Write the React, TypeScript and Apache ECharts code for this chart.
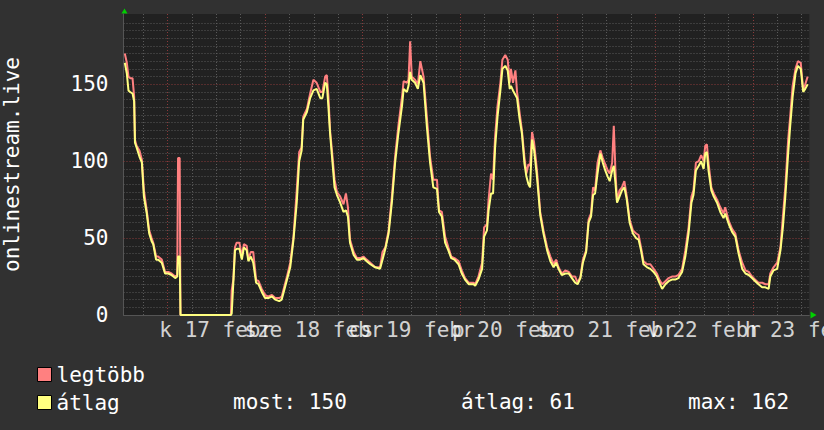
import React, { useEffect, useRef } from 'react';
import * as echarts from 'echarts';

// hours since 16 Feb 00:00
const hours = [
  13.5, 14.0, 14.4, 14.8, 15.4, 15.8, 16.0, 16.4, 17.1, 17.7, 18.2, 18.9, 19.5, 20.1, 20.5, 21.2, 21.7, 22.6, 23.4, 24.2,
  25.0, 25.9, 26.4, 26.6, 27.0, 27.2, 39.6, 39.8, 40.2, 40.6, 41.0, 41.7, 42.3, 42.8, 43.5, 43.9, 44.5, 45.1, 45.8, 46.4,
  47.2, 48.0, 48.8, 49.7, 50.5, 51.5, 52.1, 52.7, 53.4, 54.2, 55.0, 55.8, 56.4, 57.0, 57.4, 58.3, 59.1, 59.9, 60.7, 61.6,
  62.1, 62.8, 63.2, 63.6, 64.0, 64.6, 65.1, 65.7, 66.5, 67.3, 67.9, 68.4, 68.9, 69.8, 70.6, 71.4, 72.2, 73.0, 73.9, 75.1,
  76.3, 76.9, 77.6, 78.4, 79.2, 80.0, 80.8, 81.7, 82.1, 82.9, 83.3, 83.7, 84.1, 84.9, 85.6, 86.2, 87.0, 87.8, 88.6, 89.4,
  90.3, 90.8, 91.5, 92.3, 93.1, 93.8, 94.6, 95.6, 96.4, 97.2, 98.1, 99.3, 99.7, 100.5, 101.4, 101.9, 102.6, 103.0, 103.6, 104.1,
  104.6, 105.2, 105.9, 106.4, 107.1, 107.7, 108.2, 108.5, 109.0, 109.6, 110.0, 110.6, 111.2, 111.8, 112.3, 112.8, 113.2, 113.7, 114.2, 114.9,
  115.7, 116.5, 117.4, 118.2, 119.0, 119.6, 120.2, 121.0, 121.9, 122.7, 123.5, 124.3, 124.9, 125.6, 126.2, 127.0, 127.6, 128.2, 128.7, 129.2,
  129.8, 130.5, 131.1, 131.7, 132.3, 132.8, 133.4, 133.8, 134.2, 134.6, 135.2, 135.8, 136.4, 137.0, 137.7, 138.5, 139.3, 139.9, 140.5, 141.1,
  142.0, 142.8, 143.6, 144.4, 145.0, 145.7, 146.5, 147.3, 148.1, 148.9, 149.7, 150.6, 151.4, 152.2, 152.9, 153.4, 154.0, 154.7, 155.3, 155.9,
  156.3, 156.7, 157.1, 157.8, 158.4, 159.2, 160.0, 160.8, 161.2, 162.1, 162.9, 163.7, 164.5, 165.4, 166.2, 167.0, 167.8, 168.6, 169.4, 170.3,
  171.1, 171.9, 172.3, 173.1, 174.0, 174.8, 175.4, 176.0, 176.7, 177.2, 177.8, 178.5, 179.1, 179.8, 180.4, 180.9, 181.5,
];

const maxValues = [
  170, 164, 155, 154, 154, 142, 114, 110, 107, 101, 81, 68, 55, 50, 47, 38, 38, 36, 28, 28,
  27, 25, 26, 102, 102, 0, 0, 16, 23, 44, 47, 47, 38, 46, 45, 36, 41, 41, 23, 22,
  17, 13, 12, 13, 11, 11, 12, 18, 25, 34, 51, 81, 106, 109, 129, 134, 144, 153, 151, 145,
  145, 155, 156, 142, 120, 103, 88, 80, 77, 72, 79, 70, 49, 41, 37, 37, 38, 36, 34, 31,
  31, 41, 44, 55, 77, 103, 123, 142, 152, 151, 153, 178, 155, 153, 150, 165, 155, 129, 103, 88,
  88, 68, 67, 51, 44, 38, 37, 35, 29, 24, 21, 21, 20, 25, 34, 57, 59, 75, 92, 88,
  116, 136, 151, 166, 169, 166, 151, 160, 151, 159, 145, 132, 120, 103, 92, 98, 97, 119, 112, 94,
  67, 55, 44, 38, 33, 36, 31, 27, 29, 28, 25, 25, 21, 25, 36, 42, 62, 66, 83, 81,
  99, 107, 102, 98, 94, 92, 99, 123, 94, 74, 81, 83, 87, 77, 62, 55, 53, 52, 44, 35,
  33, 33, 30, 27, 23, 20, 22, 24, 25, 25, 26, 30, 42, 57, 77, 81, 99, 100, 104, 100,
  110, 111, 99, 83, 79, 75, 70, 66, 70, 61, 56, 53, 42, 34, 29, 28, 25, 23, 21, 21,
  20, 20, 27, 31, 34, 44, 64, 83, 114, 129, 149, 160, 165, 164, 146, 150, 155,
];

const avgValues = [
  164, 157, 146, 145, 144, 139, 112, 109, 103, 99, 77, 66, 53, 48, 46, 36, 36, 34, 27, 27,
  26, 24, 25, 38, 38, 0, 0, 1, 21, 42, 43, 43, 36, 44, 42, 35, 38, 34, 21, 20,
  15, 11, 11, 12, 10, 9, 10, 16, 23, 31, 49, 73, 100, 107, 127, 132, 141, 146, 147, 141,
  141, 151, 150, 135, 118, 99, 83, 78, 73, 67, 68, 64, 47, 39, 36, 36, 37, 35, 33, 31,
  30, 36, 43, 53, 73, 99, 118, 136, 147, 145, 149, 158, 153, 151, 147, 156, 151, 123, 99, 83,
  82, 67, 64, 47, 42, 37, 36, 33, 27, 23, 20, 20, 19, 23, 30, 51, 55, 68, 79, 79,
  109, 129, 146, 160, 162, 159, 147, 149, 146, 143, 141, 128, 118, 99, 90, 85, 83, 114, 107, 90,
  65, 53, 42, 35, 31, 34, 30, 26, 27, 27, 24, 21, 20, 24, 34, 41, 60, 64, 78, 79,
  92, 105, 99, 94, 90, 87, 94, 97, 86, 73, 77, 81, 83, 75, 60, 53, 50, 49, 42, 33,
  31, 30, 28, 25, 21, 17, 20, 22, 23, 23, 24, 28, 38, 53, 73, 78, 94, 97, 100, 95,
  105, 106, 94, 81, 77, 73, 67, 63, 66, 59, 54, 51, 40, 30, 27, 26, 24, 22, 20, 18,
  18, 17, 25, 29, 30, 42, 57, 77, 105, 123, 142, 157, 162, 160, 145, 147, 150,
];

const seriesNames = ['legtöbb', 'átlag'];
const dayLabels = ['k 17 febr', 'sze 18 febr', 'cs 19 febr', 'p 20 febr', 'szo 21 febr', 'v 22 febr', 'h 23 febr'];
const labelHours = [36, 60, 84, 108, 132, 156, 180];
const yLabelValues = [0, 50, 100, 150];
const statNames = ['most', 'átlag', 'max'];
const statValues = [150, 61, 162];
const yTitle = 'onlinestream.live';

const X_MIN = 13.18;
const X_MAX = 181.9;
const Y_MAX = 195.7;

const FONT = '"DejaVu Sans Mono", monospace';
const PINK = '#ff8080';
const YELLOW = '#ffff80';
const MINOR = '#5a5a5a';
const MAJOR = '#8a3a3a';

export default function App() {
  const ref = useRef<HTMLDivElement>(null);

  useEffect(() => {
    if (!ref.current) return;
    const chart = echarts.init(ref.current, null, { renderer: 'svg' });

    const gridLines: any[] = [];
    for (let h = 18; h < X_MAX; h += 6) {
      gridLines.push({ xAxis: h, lineStyle: { color: h % 24 === 0 ? MAJOR : MINOR } });
    }
    for (let v = 5; v <= 190; v += 5) {
      gridLines.push({ yAxis: v, lineStyle: { color: v % 50 === 0 ? MAJOR : MINOR } });
    }

    const statX = [233, 461, 688];

    chart.setOption({
      animation: false,
      backgroundColor: '#313131',
      grid: {
        left: 123.5,
        top: 14,
        right: 14.7,
        bottom: 115,
        show: true,
        backgroundColor: '#212121',
        borderWidth: 0,
        outerBoundsMode: 'none',
        containLabel: false,
      },
      legend: {
        data: seriesNames,
        orient: 'vertical',
        left: 32,
        top: 359,
        itemWidth: 14,
        itemHeight: 14,
        itemGap: 7,
        icon: 'rect',
        selectedMode: false,
        itemStyle: { borderColor: '#000', borderWidth: 1 },
        textStyle: { color: '#fff', fontFamily: FONT, fontSize: 21, lineHeight: 21 },
      },
      xAxis: {
        type: 'value',
        min: X_MIN,
        max: X_MAX,
        splitLine: { show: false },
        axisLine: { show: true, lineStyle: { color: '#555' } },
        axisTick: { show: false },
        axisLabel: { show: false },
      },
      yAxis: {
        type: 'value',
        min: 0,
        max: Y_MAX,
        interval: 50,
        name: yTitle,
        nameLocation: 'middle',
        nameGap: 101,
        nameRotate: 90,
        nameTextStyle: { color: '#fff', fontFamily: FONT, fontSize: 21 },
        splitLine: { show: false },
        axisLine: { show: true, lineStyle: { color: '#555' } },
        axisTick: { show: false },
        axisLabel: {
          formatter: (v: number) => (yLabelValues.indexOf(v) >= 0 ? String(v) : ''),
          color: '#fff',
          fontFamily: FONT,
          fontSize: 21,
          margin: 15,
        },
      },
      graphic: [
        {
          type: 'polygon',
          shape: { points: [[121.5, 13.5], [127.5, 13.5], [124.5, 8.5]] },
          style: { fill: '#00d000' },
          silent: true,
        },
        {
          type: 'polygon',
          shape: { points: [[810.5, 311.5], [810.5, 318.5], [816.5, 315]] },
          style: { fill: '#00d000' },
          silent: true,
        },
        ...statNames.map((n, i) => ({
          type: 'text',
          x: statX[i],
          y: 402,
          silent: true,
          style: {
            text: `${n}: ${statValues[i]}`,
            fill: '#fff',
            font: `21px ${FONT}`,
            verticalAlign: 'middle',
            align: 'left',
          },
        })),
      ],
      series: [
        {
          name: seriesNames[0],
          type: 'line',
          data: hours.map((h, i) => [h, maxValues[i]]),
          symbol: 'none',
          showSymbol: false,
          lineStyle: { width: 2, color: PINK },
          itemStyle: { color: PINK },
          z: 3,
          markLine: {
            silent: true,
            symbol: ['none', 'none'],
            z: 1,
            label: { show: false },
            lineStyle: { type: [1, 2], width: 1 },
            data: gridLines,
          },
        },
        {
          name: seriesNames[1],
          type: 'line',
          data: hours.map((h, i) => [h, avgValues[i]]),
          symbol: 'none',
          showSymbol: false,
          lineStyle: { width: 2, color: YELLOW },
          itemStyle: { color: YELLOW },
          z: 4,
        },
        {
          name: 'dayLabels',
          type: 'scatter',
          data: labelHours.map((h, i) => ({ value: [h, 0], name: dayLabels[i] })),
          symbolSize: 0,
          silent: true,
          clip: false,
          z: 5,
          label: {
            show: true,
            position: 'bottom',
            distance: 4,
            formatter: '{b}',
            color: '#fff',
            fontFamily: FONT,
            fontSize: 21,
          },
          labelLayout: { hideOverlap: false },
        },
      ],
    });

    return () => chart.dispose();
  }, []);

  return (
    <div
      ref={ref}
      style={{ position: 'fixed', left: 0, top: 0, width: 824, height: 430 }}
    />
  );
}
